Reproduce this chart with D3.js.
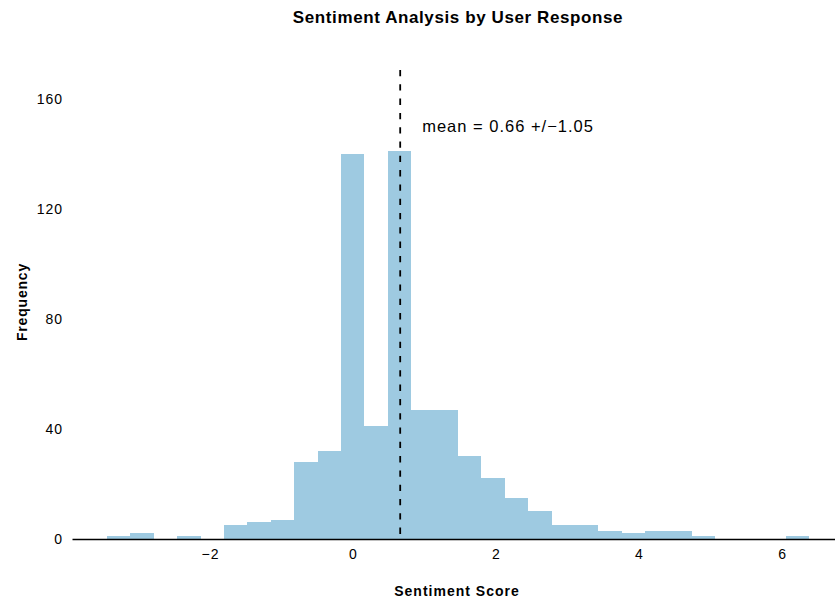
<!DOCTYPE html>
<html>
<head>
<meta charset="utf-8">
<script src="https://cdn.jsdelivr.net/npm/d3@7"></script>
<style>
  body { margin: 0; background: #fff; }
  svg text { font-family: "Liberation Sans", Arial, sans-serif; fill: #000; }
</style>
</head>
<body>
<svg id="chart" width="835" height="602"></svg>
<script>
// histogram bins (edges) and counts
const binEdges = [-3.44, -3.113, -2.785, -2.458, -2.131, -1.804, -1.476, -1.149, -0.822, -0.495,
    -0.167, 0.160, 0.487, 0.814, 1.142, 1.469, 1.796, 2.123, 2.451, 2.778,
    3.105, 3.432, 3.760, 4.087, 4.414, 4.741, 5.069, 5.396, 5.723, 6.050, 6.377];
const binCounts = [1, 2, 0, 1, 0, 5, 6, 7, 28, 32,
    140, 41, 141, 47, 47, 30, 22, 15, 10, 5,
    5, 3, 2, 3, 3, 1, 0, 0, 0, 1];
const meanScore = 0.66;
const sdScore = 1.05;
const xTicks = [-2, 0, 2, 4, 6];
const yTicks = [0, 40, 80, 120, 160];

const svg = d3.select("#chart");

const x = d3.scaleLinear().domain([-3.93, 6.741]).range([72, 835]);
const y = d3.scaleLinear().domain([0, 170.5]).range([539, 70]);

const bins = binCounts.map((c, i) => ({ x0: binEdges[i], x1: binEdges[i + 1], count: c }));

// bars
svg.append("g")
    .attr("shape-rendering", "crispEdges")
    .selectAll("rect")
    .data(bins.filter(d => d.count > 0))
    .join("rect")
    .attr("x", d => x(d.x0))
    .attr("width", d => x(d.x1) - x(d.x0))
    .attr("y", d => y(d.count))
    .attr("height", d => y(0) - y(d.count))
    .attr("fill", "#9ecae1");

// x axis
const xAxis = svg.append("g")
    .attr("transform", `translate(0,${y(0)})`)
    .call(d3.axisBottom(x).tickValues(xTicks).tickSize(0).tickSizeOuter(0).tickPadding(10.5));
xAxis.select(".domain").attr("stroke", "#000").attr("stroke-width", 1.5);
xAxis.selectAll("text")
    .style("font-size", "14px")
    .style("letter-spacing", "1px")
    .style("font-family", "'Liberation Sans', Arial, sans-serif");

// y axis
const yAxis = svg.append("g")
    .attr("transform", `translate(${x.range()[0]},0)`)
    .call(d3.axisLeft(y).tickValues(yTicks).tickSize(0).tickPadding(9));
yAxis.select(".domain").remove();
yAxis.selectAll("text")
    .style("font-size", "14px")
    .style("letter-spacing", "1px")
    .style("font-family", "'Liberation Sans', Arial, sans-serif");

// mean line
svg.append("line")
    .attr("x1", x(meanScore)).attr("x2", x(meanScore))
    .attr("y1", y.range()[1]).attr("y2", y(0))
    .attr("stroke", "#000")
    .attr("stroke-width", 1.8)
    .attr("stroke-dasharray", "6.3,8");

svg.append("text")
    .attr("x", x(meanScore) + 22)
    .attr("y", 132)
    .style("font-size", "16.5px")
    .style("letter-spacing", "1px")
    .text(`mean = ${meanScore.toFixed(2)} +/\u2212${sdScore.toFixed(2)}`);

// title and axis labels
svg.append("text")
    .attr("x", 458)
    .attr("y", 23)
    .attr("text-anchor", "middle")
    .style("font-size", "17px")
    .style("font-weight", "bold")
    .style("letter-spacing", "0.6px")
    .text("Sentiment Analysis by User Response");

svg.append("text")
    .attr("x", 457)
    .attr("y", 596)
    .attr("text-anchor", "middle")
    .style("font-size", "14px")
    .style("font-weight", "bold")
    .style("letter-spacing", "1px")
    .text("Sentiment Score");

svg.append("text")
    .attr("transform", "translate(27,302) rotate(-90)")
    .attr("text-anchor", "middle")
    .style("font-size", "14px")
    .style("font-weight", "bold")
    .style("letter-spacing", "0.8px")
    .text("Frequency");
</script>
</body>
</html>
